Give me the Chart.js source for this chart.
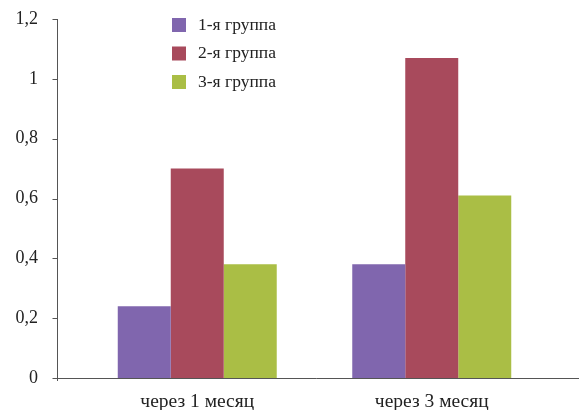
<!DOCTYPE html>
<html><head><meta charset="utf-8">
<script src="https://cdn.jsdelivr.net/npm/chart.js@4/dist/chart.umd.min.js"></script>
<style>html,body{margin:0;padding:0;background:#fff}#wrap{width:579px;height:410px}</style>
</head><body><div id="wrap"><canvas id="c" width="579" height="410"></canvas></div>
<script>
const categories = ["через 1 месяц", "через 3 месяц"];
const seriesNames = ["1-я группа", "2-я группа", "3-я группа"];
const group1 = [0.24, 0.38];
const group2 = [0.70, 1.07];
const group3 = [0.38, 0.61];
const colors = ["#8066AE", "#A84A5C", "#AABE45"];
const yTicks = [0, 0.2, 0.4, 0.6, 0.8, 1, 1.2];

const FONT = "'Liberation Serif', 'DejaVu Serif', serif";
const AXIS = "#555555";

const axesPlugin = {
  id: 'axes',
  afterDraw(chart) {
    const ctx = chart.ctx, ca = chart.chartArea, y = chart.scales.y;
    const ax = 57.5;
    ctx.save();
    ctx.strokeStyle = AXIS; ctx.lineWidth = 1;
    ctx.beginPath();
    ctx.moveTo(ax, y.getPixelForValue(1.2)); ctx.lineTo(ax, ca.bottom + 3);
    const yb = Math.round(y.getPixelForValue(0)) + 0.5;
    ctx.moveTo(ax - 4, yb); ctx.lineTo(579, yb);
    yTicks.forEach(v => { const p = Math.round(y.getPixelForValue(v)) + 0.5; ctx.moveTo(ax - 5, p); ctx.lineTo(ax, p); });
    ctx.stroke();
    ctx.font = "17.5px " + FONT;
    ctx.textBaseline = 'middle';
    chart.data.datasets.forEach((ds, i) => {
      const top = 18 + i * 28.5;
      ctx.fillStyle = ds.backgroundColor;
      ctx.fillRect(172, top, 14, 14);
      ctx.fillStyle = '#222';
      ctx.fillText(ds.label, 198, top + 7);
    });
    ctx.restore();
  }
};

new Chart(document.getElementById('c'), {
  type: 'bar',
  data: {
    labels: categories,
    datasets: [
      { label: seriesNames[0], data: group1, backgroundColor: colors[0] },
      { label: seriesNames[1], data: group2, backgroundColor: colors[1] },
      { label: seriesNames[2], data: group3, backgroundColor: colors[2] }
    ]
  },
  options: {
    responsive: false, animation: false,
    layout: { padding: { top: 19, right: 30, left: 0, bottom: 0 } },
    datasets: { bar: { barPercentage: 1, categoryPercentage: 0.678 } },
    plugins: { legend: { display: false }, tooltip: { enabled: false } },
    scales: {
      x: {
        grid: { display: false, drawTicks: false }, border: { display: false },
        ticks: { color: '#222', font: { family: FONT, size: 19.5 }, padding: 12 },
        afterFit: s => { s.height = 32; }
      },
      y: {
        min: 0, max: 1.2,
        grid: { display: false, drawTicks: false }, border: { display: false },
        afterBuildTicks: s => { s.ticks = yTicks.map(v => ({ value: v })); },
        ticks: { color: '#222', font: { family: FONT, size: 18 }, padding: 42,
          callback: v => String(Math.round(v * 10) / 10).replace('.', ',') },
        afterFit: s => { s.width = 80; s.paddingTop = 0; s.paddingBottom = 0; }
      }
    }
  },
  plugins: [axesPlugin]
});
</script></body></html>
